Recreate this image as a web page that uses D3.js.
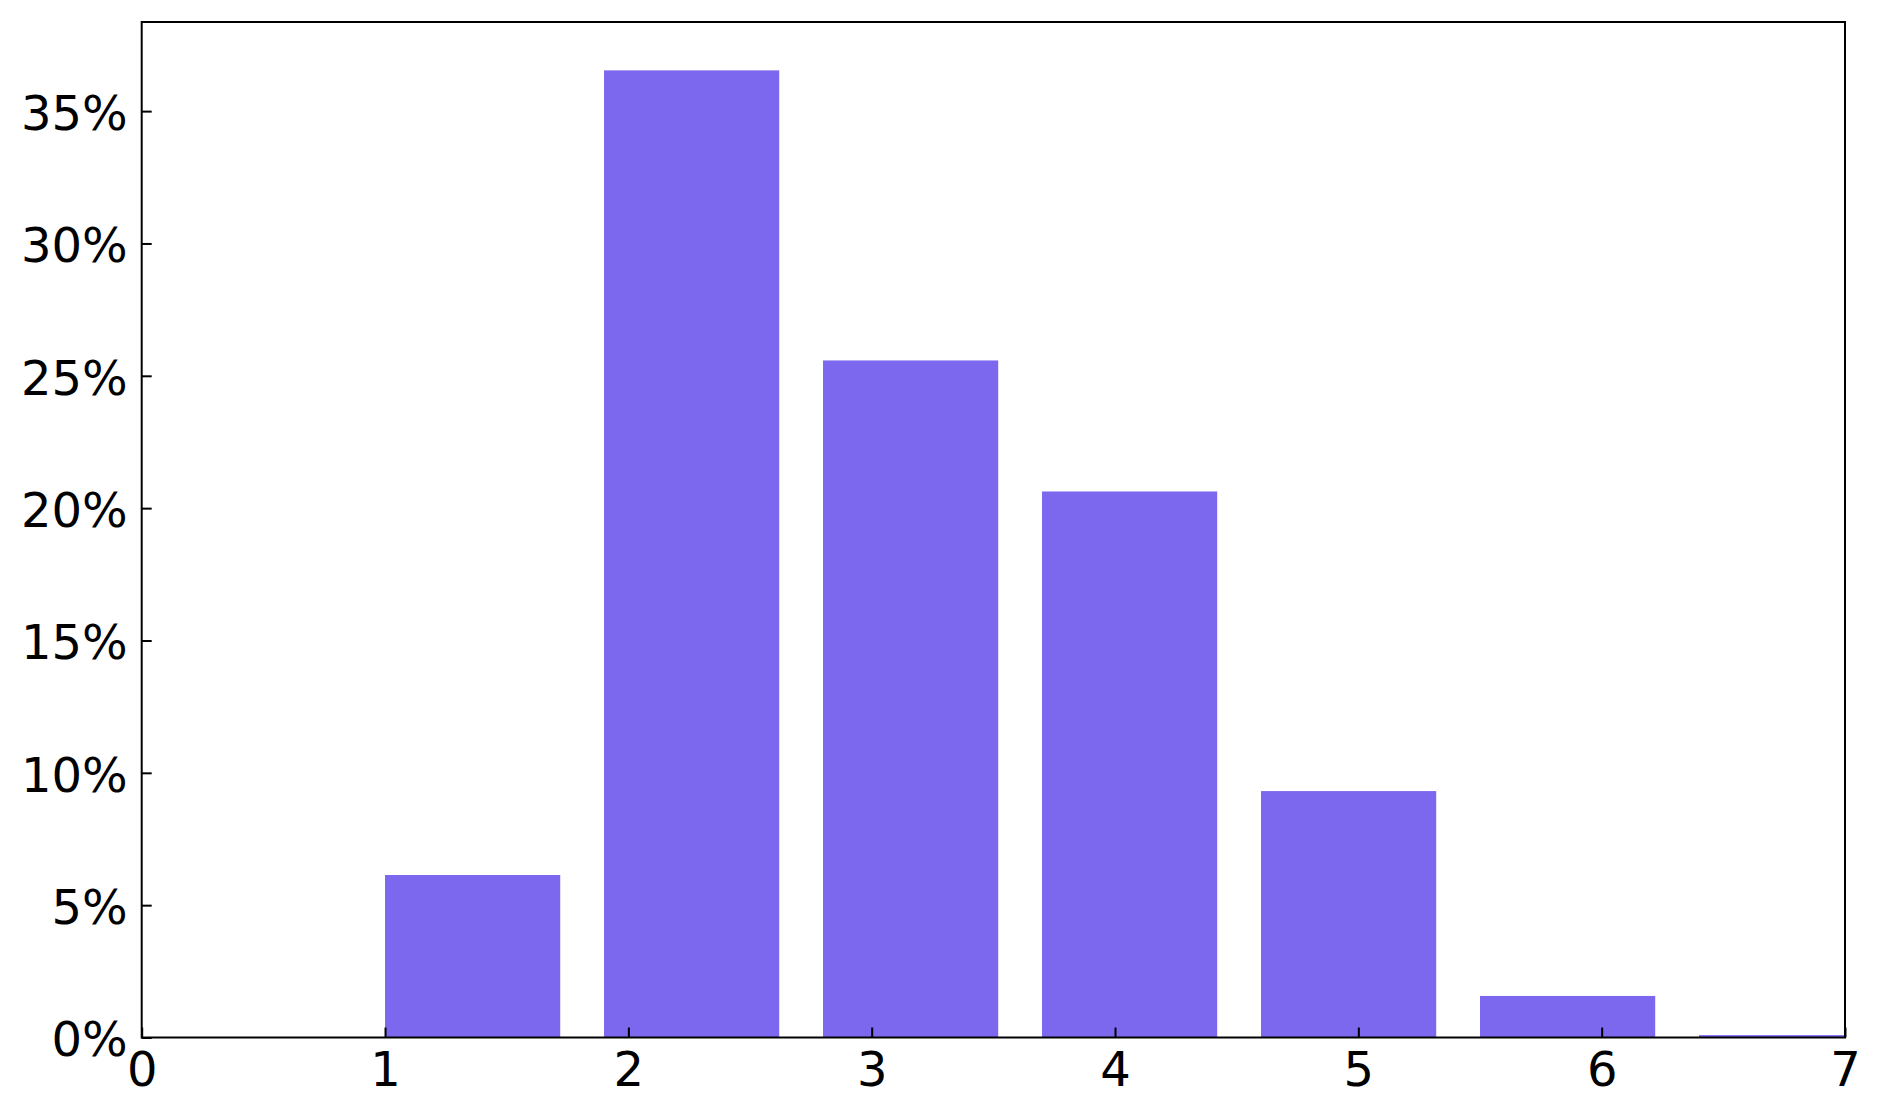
<!DOCTYPE html>
<html>
<head>
<meta charset="utf-8">
<script src="https://cdn.jsdelivr.net/npm/d3@7"></script>
<style>
  body { margin: 0; background: #fff; }
  text { font-family: "DejaVu Sans", sans-serif; fill: #000; }
</style>
</head>
<body>
<svg id="chart" width="1883" height="1118"></svg>
<script>
// bar left edges and shares (%)
var binStarts = [1.0, 1.9, 2.8, 3.7, 4.6, 5.5, 6.4];
var shares = [6.14, 36.54, 25.58, 20.63, 9.31, 1.57, 0.09];
var barWidth = 0.72;
var xTicks = [0, 1, 2, 3, 4, 5, 6, 7];
var yTicks = [0, 5, 10, 15, 20, 25, 30, 35];

var margin = {left: 141.7, right: 38, top: 22, bottom: 80.5};
var svg = d3.select("#chart");
var W = +svg.attr("width"), H = +svg.attr("height");

var x = d3.scaleLinear().domain([0, 7]).range([margin.left, W - margin.right]);
var y = d3.scaleLinear().domain([0, d3.max(shares) * 1.05]).range([H - margin.bottom, margin.top]);

svg.append("clipPath").attr("id", "plotclip")
  .append("rect")
  .attr("x", x(0)).attr("y", y.range()[1])
  .attr("width", x(7) - x(0)).attr("height", y(0) - y.range()[1]);

svg.append("g").attr("clip-path", "url(#plotclip)")
  .selectAll("rect")
  .data(binStarts)
  .enter().append("rect")
  .attr("x", function(d) { return x(d); })
  .attr("width", x(barWidth) - x(0))
  .attr("y", function(d, i) { return y(shares[i]); })
  .attr("height", function(d, i) { return y(0) - y(shares[i]); })
  .attr("fill", "#7B68EE");

var fontSize = 48;

// bottom axis, ticks inward
var xAxis = svg.append("g")
  .attr("transform", `translate(0, ${y(0)})`)
  .call(d3.axisBottom(x).tickValues(xTicks).tickFormat(d3.format("d"))
    .tickSizeInner(-10).tickSizeOuter(0).tickPadding(13));
xAxis.select(".domain").remove();
xAxis.selectAll("line").attr("stroke", "#000").attr("stroke-width", 2);
xAxis.selectAll("text").attr("font-size", fontSize).attr("dy", "0.73em")
  .attr("font-family", "DejaVu Sans");

// left axis, ticks inward
var yAxis = svg.append("g")
  .attr("transform", `translate(${x(0)}, 0)`)
  .call(d3.axisLeft(y).tickValues(yTicks).tickFormat(function(d) { return d + "%"; })
    .tickSizeInner(-10).tickSizeOuter(0).tickPadding(14));
yAxis.select(".domain").remove();
yAxis.selectAll("line").attr("stroke", "#000").attr("stroke-width", 2);
yAxis.selectAll("text").attr("font-size", fontSize).attr("dy", "0.38em")
  .attr("font-family", "DejaVu Sans");

// frame
svg.append("rect")
  .attr("x", x(0)).attr("y", y.range()[1])
  .attr("width", x(7) - x(0)).attr("height", y(0) - y.range()[1])
  .attr("fill", "none").attr("stroke", "#000").attr("stroke-width", 2);
</script>
</body>
</html>
